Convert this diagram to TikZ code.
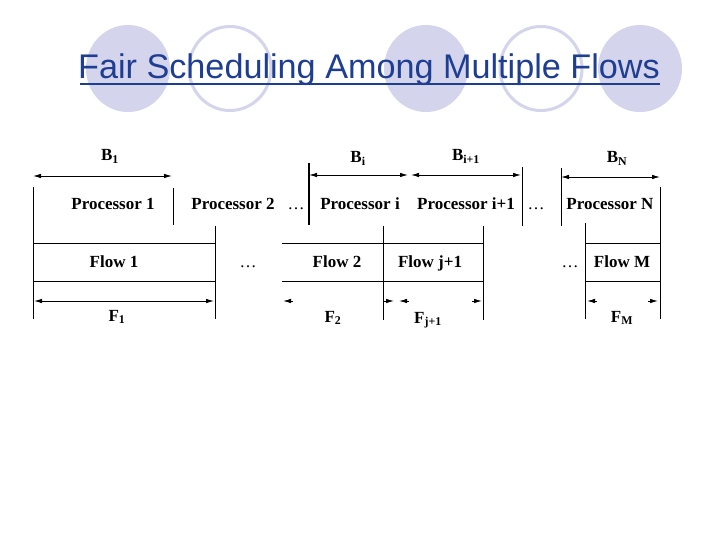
\documentclass[tikz,border=0pt]{standalone}
\usepackage{fontspec}
\setmainfont{Liberation Serif}
\newfontfamily\titlefont{Liberation Sans}
\usetikzlibrary{arrows.meta}
\definecolor{titleblue}{RGB}{30,62,148}
\definecolor{lav}{RGB}{212,212,236}
\tikzset{
  fillell/.style={fill=lav,draw=none},
  ringell/.style={draw=lav,line width=3bp,fill=white},
  rule/.style={line width=0.9bp,black},
  thickrule/.style={line width=1.8bp,black},
  dim/.style={line width=0.9bp,{Latex[length=8bp,width=4.5bp]}-{Latex[length=8bp,width=4.5bp]}},
  tiponly/.style={line width=0.9bp,-{Latex[length=8bp,width=4.5bp]}},
  lbl/.style={inner sep=0pt,anchor=base,font=\fontsize{17bp}{20bp}\selectfont\bfseries},
  dots/.style={inner sep=0pt,anchor=base,font=\fontsize{17bp}{20bp}\selectfont},
}
\begin{document}
\begin{tikzpicture}[x=1bp,y=-1bp]
\useasboundingbox (0,0) rectangle (720,540);
\fill[white] (0,0) rectangle (720,540);
% decorative ellipses
\path[fillell] (128,68.5) ellipse [x radius=42,y radius=43.5];
\path[ringell] (230,68.5) ellipse [x radius=41,y radius=42];
\path[fillell] (426,68.5) ellipse [x radius=42,y radius=43.5];
\path[ringell] (541,68.5) ellipse [x radius=41,y radius=42];
\path[fillell] (640,68.5) ellipse [x radius=42,y radius=43.5];
% title
\node[anchor=base west,inner sep=0pt,text=titleblue,font=\titlefont\fontsize{34.2bp}{40bp}\selectfont] (title) at (78,79) {Fair Scheduling Among Multiple Flows};
\draw[titleblue,line width=2bp] ([yshift=-5bp]title.base west) ++(2,0) coordinate (ul0) -- ([yshift=-5bp]title.base east) coordinate (ul1);

% coordinates
\coordinate (vL0) at (33,187);   \coordinate (vL1) at (33,319);
\coordinate (vR0) at (660,187);  \coordinate (vR1) at (660,319);
\coordinate (p1a) at (173,188);  \coordinate (p1b) at (173,225);
\coordinate (pia) at (309,163);  \coordinate (pib) at (309,225);
\coordinate (pja) at (522,167);  \coordinate (pjb) at (522,226);
\coordinate (pna) at (561,168);  \coordinate (pnb) at (561,226);
\coordinate (f1a) at (215,226);  \coordinate (f1b) at (215,319);
\coordinate (f2a) at (383,226);  \coordinate (f2b) at (383,320);
\coordinate (f3a) at (483,226);  \coordinate (f3b) at (483,320);
\coordinate (f4a) at (585,223);  \coordinate (f4b) at (585,319);

% vertical rules
\draw[rule] (vL0) -- (vL1);
\draw[rule] (vR0) -- (vR1);
\draw[rule] (p1a) -- (p1b);
\draw[thickrule] (pia) -- (pib);
\draw[rule] (pja) -- (pjb);
\draw[rule] (pna) -- (pnb);
\draw[rule] (f1a) -- (f1b);
\draw[rule] (f2a) -- (f2b);
\draw[rule] (f3a) -- (f3b);
\draw[rule] (f4a) -- (f4b);

% horizontal flow rules
\coordinate (h1a) at (33,243);  \coordinate (h1b) at (215,243);
\coordinate (h2a) at (33,281);  \coordinate (h2b) at (215,281);
\coordinate (h3a) at (282,243); \coordinate (h3b) at (483,243);
\coordinate (h4a) at (282,281); \coordinate (h4b) at (483,281);
\coordinate (h5a) at (585,243); \coordinate (h5b) at (660,243);
\coordinate (h6a) at (585,281); \coordinate (h6b) at (660,281);
\draw[rule] (h1a) -- (h1b);
\draw[rule] (h2a) -- (h2b);
\draw[rule] (h3a) -- (h3b);
\draw[rule] (h4a) -- (h4b);
\draw[rule] (h5a) -- (h5b);
\draw[rule] (h6a) -- (h6b);

% B dimension arrows
\coordinate (b1l) at (33,176);  \coordinate (b1r) at (172,176);
\coordinate (bil) at (309,175); \coordinate (bir) at (408,175);
\coordinate (bjl) at (411,175); \coordinate (bjr) at (521,175);
\coordinate (bnl) at (561,177); \coordinate (bnr) at (660,177);
\draw[dim] (b1l) -- (b1r);
\draw[dim] (bil) -- (bir);
\draw[dim] (bjl) -- (bjr);
\draw[dim] (bnl) -- (bnr);

% F dimension arrows
\coordinate (fa1l) at (34,301);  \coordinate (fa1r) at (214,301);
\draw[dim] (fa1l) -- (fa1r);
\coordinate (fa2l) at (283,301);  \coordinate (fa2r) at (394,301);
\coordinate (fa3l) at (399,301);  \coordinate (fa3r) at (482,301);
\coordinate (fa4l) at (587,301);  \coordinate (fa4r) at (658,301);
\foreach \e/\d in {fa2l/10,fa2r/-10,fa3l/10,fa3r/-10,fa4l/10,fa4r/-10}{
  \draw[tiponly] ([xshift=\d bp]\e) -- (\e);
}

% labels
\node[lbl] (B1) at (110,161) {B\textsubscript{1}};
\node[lbl] (Bi) at (358,163) {B\textsubscript{i}};
\node[lbl] (Bj) at (466,161) {B\textsubscript{i+1}};
\node[lbl] (BN) at (617,163) {B\textsubscript{N}};

\node[lbl] (P1) at (113,210) {Processor 1};
\node[lbl] (P2) at (233,210) {Processor 2};
\node[dots] (d1) at (296,210) {…};
\node[lbl] (Pi) at (360,210) {Processor i};
\node[lbl] (Pj) at (466,210) {Processor i+1};
\node[dots] (d2) at (536,210) {…};
\node[lbl] (PN) at (610,210) {Processor N};

\node[lbl] (F1) at (114,268) {Flow 1};
\node[dots] (d3) at (248,268) {…};
\node[lbl] (F2) at (337,268) {Flow 2};
\node[lbl] (Fj) at (430,268) {Flow j+1};
\node[dots] (d4) at (570,268) {…};
\node[lbl] (FM) at (622,268) {Flow M};

\node[lbl] (LF1) at (117,321) {F\textsubscript{1}};
\node[lbl] (LF2) at (333,322) {F\textsubscript{2}};
\node[lbl] (LFj) at (428,323) {F\textsubscript{j+1}};
\node[lbl] (LFM) at (622,322) {F\textsubscript{M}};
\end{tikzpicture}
\end{document}
